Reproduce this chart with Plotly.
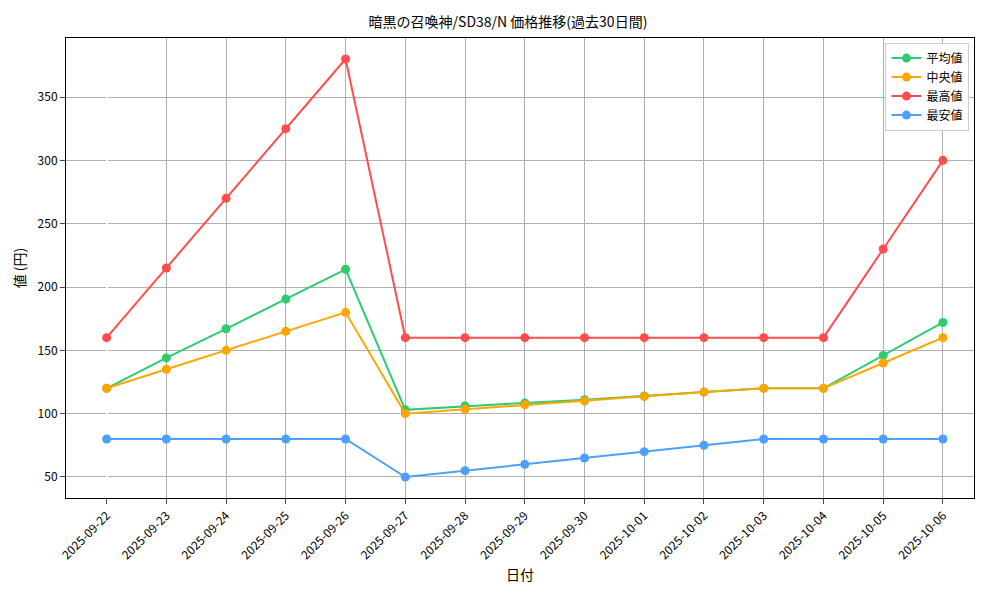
import plotly.graph_objects as go

dates = ["2025-09-22","2025-09-23","2025-09-24","2025-09-25","2025-09-26","2025-09-27","2025-09-28","2025-09-29","2025-09-30","2025-10-01","2025-10-02","2025-10-03","2025-10-04","2025-10-05","2025-10-06"]
avg = [120,144,167,190.5,214,103,106,108.5,111,114,117,120,120,146,172]
med = [120,135,150,165,180,100,103.5,107,110,113.5,117,120,120,140,160]
mx = [160,215,270,325,380,160,160,160,160,160,160,160,160,230,300]
mn = [80,80,80,80,80,50,55,60,65,70,75,80,80,80,80]

series = [("平均値", avg, "#2ecc71"), ("中央値", med, "#ffa500"), ("最高値", mx, "#ff4d4d"), ("最安値", mn, "#4d9fff")]
fig = go.Figure()
for name, vals, c in series:
    fig.add_trace(go.Scatter(x=list(range(len(dates))), y=vals, name=name, mode="lines+markers",
                             line=dict(color=c, width=2), marker=dict(size=9, color=c)))
fig.update_layout(
    width=1000, height=600, plot_bgcolor="white", paper_bgcolor="white",
    font=dict(family="Noto Sans CJK JP", size=12, color="black"),
    title=dict(text="暗黒の召喚神/SD38/N 価格推移(過去30日間)", x=0.5, y=0.985, xanchor="center", font=dict(size=14)),
    margin=dict(l=58, r=34, t=30, b=110),
    legend=dict(x=0.995, y=0.99, xanchor="right", yanchor="top", bordercolor="#cccccc", borderwidth=1, bgcolor="white"),
)
fig.update_xaxes(tickmode="array", tickvals=list(range(len(dates))), ticktext=dates, tickangle=-45, automargin=False,
                 range=[-0.68, 14.52], showgrid=True, gridcolor="#b0b0b0", showline=True, mirror=True,
                 linecolor="black", ticks="outside", title=dict(text="日付", standoff=8))
fig.update_yaxes(range=[33.4, 396.6], dtick=50, showgrid=True, gridcolor="#b0b0b0", showline=True, mirror=True,
                 automargin=False, linecolor="black", ticks="outside", zeroline=False, title=dict(text="値 (円)", standoff=8))
fig.write_html("out.html")
